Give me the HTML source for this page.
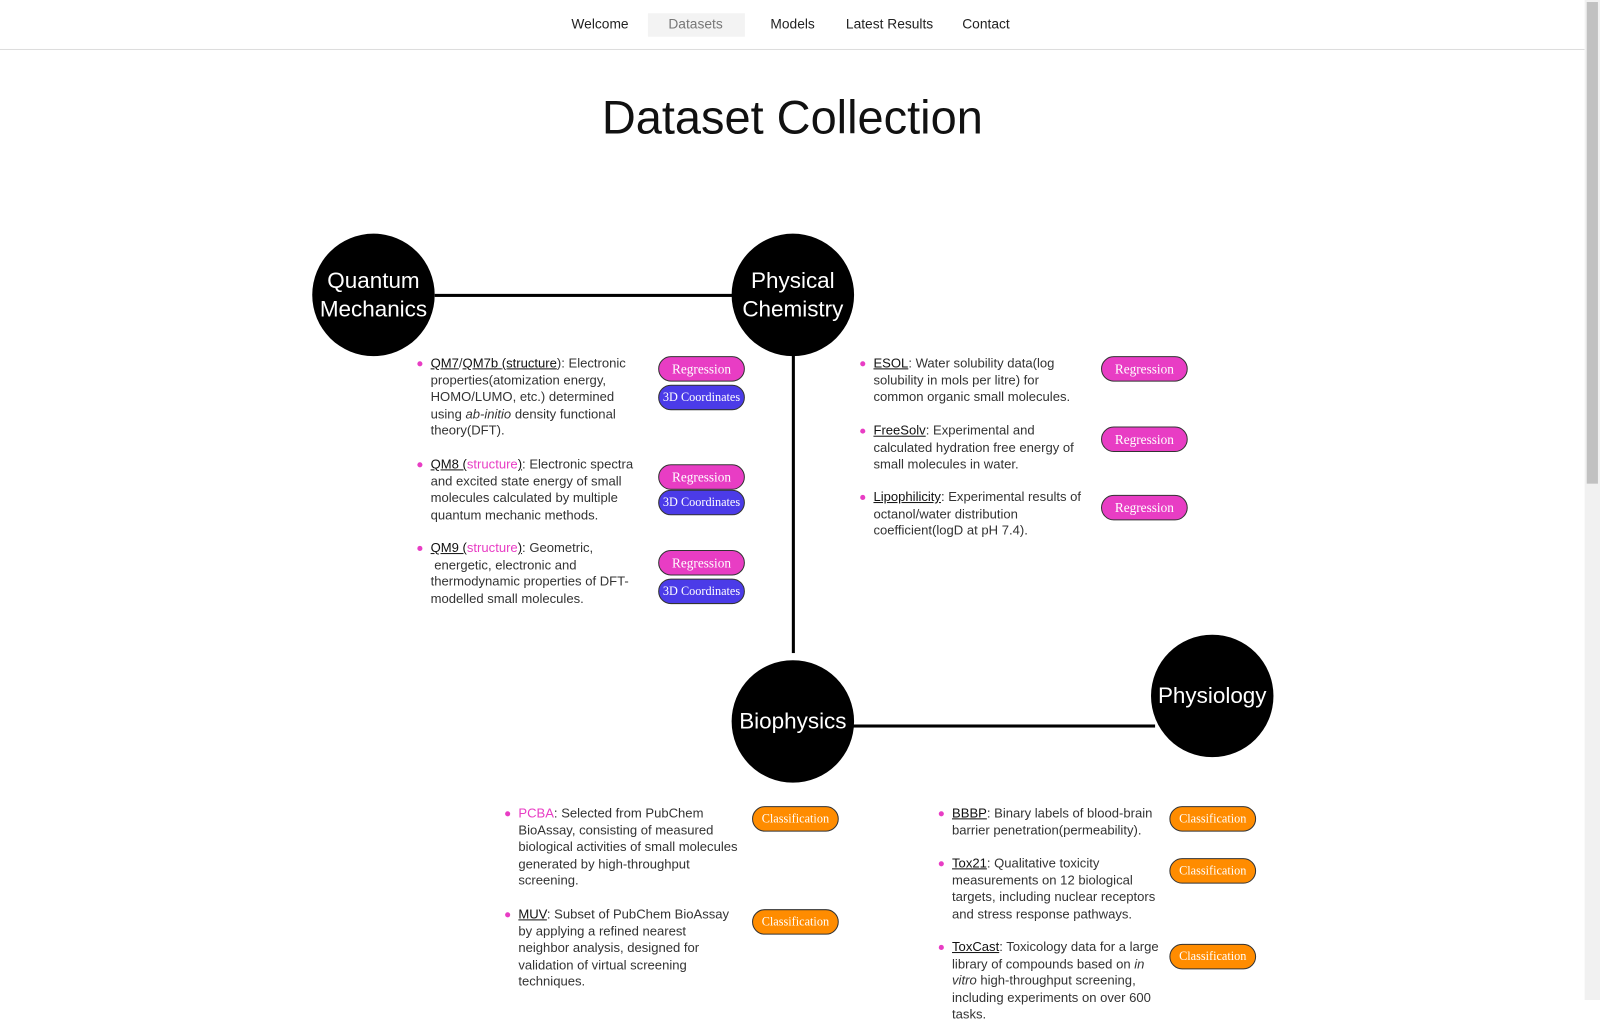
<!DOCTYPE html>
<html><head><meta charset="utf-8"><style>
*{margin:0;padding:0;box-sizing:border-box}
body{width:1600px;height:1000px;overflow:hidden;background:#fff;font-family:"Liberation Sans",sans-serif;color:#222}
#w{position:absolute;left:0;top:0;width:1568px;height:980px;transform:scale(1.0204);transform-origin:0 0}
.nav{position:absolute;left:0;top:0;width:1553px;height:49px;border-bottom:1px solid #ddd}
.nav span{position:absolute;top:16px;font-size:13.5px;color:#222}
.sb{position:absolute;left:1553px;top:0;width:15px;height:980px;background:#f1f1f1}
.sb div{position:absolute;left:2px;top:2px;width:11px;height:472px;background:#c1c1c1}
h1{position:absolute;left:0;width:1553px;top:88px;text-align:center;font-weight:normal;font-size:46px;color:#111}
.c{position:absolute;width:120px;height:120px;border-radius:50%;background:#000;color:#fff;display:flex;align-items:center;justify-content:center;text-align:center;font-size:22px;line-height:28px}
.l{position:absolute;background:#000}
.t{position:absolute;font-size:12.8px;line-height:16.5px;color:#333}
.t:before{content:"";position:absolute;left:-13px;top:6px;width:5px;height:5px;border-radius:50%;background:#e83dc4}
.t u{color:#111}
.p{color:#e83dc4}
.b{position:absolute;width:85px;height:25px;border-radius:13px;border:1px solid #333;color:#fff;font-family:"Liberation Serif",serif;font-size:13px;text-align:center;line-height:23px}
.r{background:#e83dc4}.d{background:#4b3be8;font-size:12px}.o{background:#ff8c00;font-size:12px}
</style></head><body><div id="w">
<div class="nav">
<span style="left:560px">Welcome</span>
<div style="position:absolute;left:635px;top:13px;width:95px;height:23px;background:#f3f3f3"></div>
<span style="left:655px;color:#777">Datasets</span>
<span style="left:755px">Models</span>
<span style="left:829px">Latest Results</span>
<span style="left:943px">Contact</span>
</div>
<div class="sb"><div></div></div>
<h1>Dataset Collection</h1>
<div class="l" style="left:426px;top:288px;width:292px;height:3px"></div>
<div class="l" style="left:776px;top:340px;width:3px;height:300px"></div>
<div class="l" style="left:836px;top:710px;width:296px;height:3px"></div>
<div class="c" style="left:306px;top:229px">Quantum<br>Mechanics</div>
<div class="c" style="left:717px;top:229px">Physical<br>Chemistry</div>
<div class="c" style="left:717px;top:647px">Biophysics</div>
<div class="c" style="left:1128px;top:622px">Physiology</div>

<div class="t" style="left:422px;top:348px;width:205px"><u>QM7</u>/<u>QM7b </u><u class="p">(structure</u>): Electronic properties(atomization energy, HOMO/LUMO, etc.) determined using <i>ab-initio</i> density functional theory(DFT).</div>
<div class="b r" style="left:645px;top:349px">Regression</div>
<div class="b d" style="left:645px;top:377px">3D Coordinates</div>
<div class="t" style="left:422px;top:447px;width:212px"><u>QM8 (</u><span class="p">structure</span><u>)</u>: Electronic spectra and excited state energy of small molecules calculated by multiple quantum mechanic methods.</div>
<div class="b r" style="left:645px;top:455px">Regression</div>
<div class="b d" style="left:645px;top:480px">3D Coordinates</div>
<div class="t" style="left:422px;top:529px;width:212px"><u>QM9 (</u><span class="p">structure</span><u>)</u>: Geometric, &nbsp;energetic, electronic and thermodynamic properties of DFT-modelled small molecules.</div>
<div class="b r" style="left:645px;top:539px">Regression</div>
<div class="b d" style="left:645px;top:567px">3D Coordinates</div>

<div class="t" style="left:856px;top:348px;width:205px"><u>ESOL</u>: Water solubility data(log solubility in mols per litre) for common organic small molecules.</div>
<div class="b r" style="left:1079px;top:349px">Regression</div>
<div class="t" style="left:856px;top:414px;width:210px"><u>FreeSolv</u>: Experimental and calculated hydration free energy of small molecules in water.</div>
<div class="b r" style="left:1079px;top:418px">Regression</div>
<div class="t" style="left:856px;top:479px;width:212px"><u>Lipophilicity</u>: Experimental results of octanol/water distribution coefficient(logD at pH 7.4).</div>
<div class="b r" style="left:1079px;top:485px">Regression</div>

<div class="t" style="left:508px;top:789px;width:222px"><span class="p">PCBA</span>: Selected from PubChem BioAssay, consisting of measured biological activities of small molecules generated by high-throughput screening.</div>
<div class="b o" style="left:737px;top:790px">Classification</div>
<div class="t" style="left:508px;top:888px;width:212px"><u>MUV</u>: Subset of PubChem BioAssay by applying a refined nearest neighbor analysis, designed for validation of virtual screening techniques.</div>
<div class="b o" style="left:737px;top:891px">Classification</div>

<div class="t" style="left:933px;top:789px;width:208px"><u>BBBP</u>: Binary labels of blood-brain barrier penetration(permeability).</div>
<div class="b o" style="left:1146px;top:790px">Classification</div>
<div class="t" style="left:933px;top:838px;width:212px"><u>Tox21</u>: Qualitative toxicity measurements on 12 biological targets, including nuclear receptors and stress response pathways.</div>
<div class="b o" style="left:1146px;top:841px">Classification</div>
<div class="t" style="left:933px;top:920px;width:212px"><u>ToxCast</u>: Toxicology data for a large library of compounds based on <i>in vitro</i> high-throughput screening, including experiments on over 600 tasks.</div>
<div class="b o" style="left:1146px;top:925px">Classification</div>
</div></body></html>
